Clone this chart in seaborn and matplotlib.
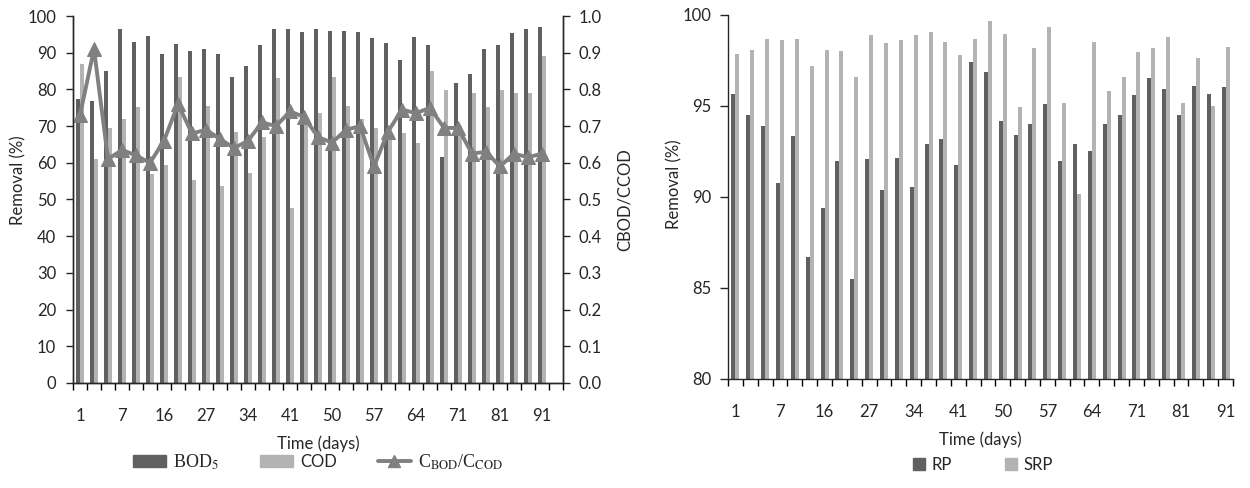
import numpy as np
import pandas as pd
import matplotlib
matplotlib.use("Agg")
import matplotlib.pyplot as plt
from matplotlib.patches import Patch
from matplotlib.lines import Line2D
import seaborn as sns

# --- data ---
tick_days = ["1", "7", "16", "27", "34", "41", "50", "57", "64", "71", "81", "91"]

bod = [77.3, 76.8, 85.1, 96.4, 93.0, 94.6, 89.6, 92.5, 90.5, 90.9, 89.6, 83.5,
       86.4, 92.2, 96.4, 96.4, 95.6, 96.4, 96.0, 96.0, 95.6, 93.9, 92.7, 88.0,
       94.2, 92.1, 61.5, 81.8, 84.2, 90.9, 92.1, 95.5, 96.4, 97.1]
cod = [86.8, 60.9, 69.4, 71.9, 75.3, 56.9, 59.4, 83.5, 55.3, 75.5, 53.7, 68.5,
       57.3, 67.0, 83.0, 47.7, 71.0, 73.5, 83.5, 75.5, 71.8, 69.4, 68.0, 68.0,
       65.5, 85.1, 79.8, 70.0, 78.9, 75.3, 79.8, 78.9, 78.9, 89.0]
ratio = [0.73, 0.91, 0.61, 0.635, 0.62, 0.60, 0.66, 0.76, 0.68, 0.69, 0.665, 0.64,
         0.66, 0.71, 0.70, 0.74, 0.725, 0.67, 0.655, 0.69, 0.70, 0.59, 0.685, 0.745,
         0.735, 0.75, 0.695, 0.695, 0.625, 0.63, 0.59, 0.625, 0.615, 0.625]

rp = [95.66, 94.5, 93.9, 90.75, 93.35, 86.7, 89.4, 92.0, 85.5, 92.07, 90.4, 92.16,
      90.57, 92.9, 93.17, 91.76, 97.44, 96.85, 94.18, 93.41, 94.0, 95.1, 92.0, 92.9,
      92.5, 94.0, 94.5, 95.6, 96.52, 95.93, 94.5, 96.1, 95.66, 96.03]
srp = [97.86, 98.1, 98.7, 98.63, 98.7, 97.2, 98.1, 98.04, 96.6, 98.88, 98.44, 98.63,
       98.88, 99.05, 98.53, 97.8, 98.68, 99.69, 98.94, 94.93, 98.17, 99.36, 95.18, 90.15,
       98.53, 95.84, 96.58, 97.95, 98.17, 98.77, 95.18, 97.62, 95.0, 98.26]

DARK = "#606060"
LIGHT = "#b3b3b3"
LINE = "#808080"
FS = 12

sns.set_style("ticks")
plt.rcParams['font.family'] = ['Lato', 'DejaVu Sans']
plt.rcParams['font.size'] = FS
plt.rcParams['mathtext.fontset'] = 'stix'
plt.rcParams['axes.linewidth'] = 1.0

n = len(bod)
sample = np.arange(n)

left_df = pd.DataFrame({"sample": np.tile(sample, 2),
                        "value": bod + cod,
                        "kind": ["BOD"] * n + ["COD"] * n})
right_df = pd.DataFrame({"sample": np.tile(sample, 2),
                         "value": rp + srp,
                         "kind": ["RP"] * n + ["SRP"] * n})

fig = plt.figure(figsize=(12.5, 4.88), dpi=100)
ax1 = fig.add_axes([0.0584, 0.2152, 0.392, 0.752])
ax3 = fig.add_axes([0.5824, 0.2234, 0.404, 0.746])


def style_x(ax, nslots):
    ax.set_xlim(-0.5, nslots - 0.5)
    ax.set_xticks(np.arange(0, n, 3))
    ax.set_xticklabels(tick_days)
    ax.set_xticks(np.arange(-0.5, nslots, 1.0), minor=True)
    ax.tick_params(axis='x', which='major', length=0, pad=18, labelsize=FS)
    ax.tick_params(axis='x', which='minor', length=5, width=1.0, direction='out', color='black')
    ax.set_xlabel("Time (days)", fontsize=FS, labelpad=8)


# --- left panel ---
sns.barplot(data=left_df, x="sample", y="value", hue="kind", ax=ax1,
            palette={"BOD": DARK, "COD": LIGHT}, width=0.57, gap=0,
            linewidth=0, errorbar=None, legend=False)
ax1.set_ylim(0, 100)
ax1.set_yticks(np.arange(0, 101, 10))
ax1.tick_params(axis='y', length=5, width=1.0, pad=7, labelsize=FS, direction='out')
style_x(ax1, n + 1)
ax1.set_ylabel("Removal (%)", fontsize=FS)
ax1.yaxis.set_label_coords(-0.096, 0.553)
ax1.spines['top'].set_visible(False)

ax2 = ax1.twinx()
sns.lineplot(x=sample, y=ratio, ax=ax2, color=LINE, linewidth=2.8,
             marker='^', markersize=10, markeredgecolor=LINE, markerfacecolor=LINE)
ax2.set_ylim(0, 1.0)
ax2.set_yticks(np.arange(0, 1.01, 0.1))
ax2.set_yticklabels([f"{v:.1f}" for v in np.arange(0, 1.01, 0.1)])
ax2.tick_params(axis='y', length=5, width=1.0, pad=6, labelsize=FS, direction='out')
ax2.set_ylabel("CBOD/CCOD", fontsize=FS)
ax2.yaxis.set_label_coords(1.11, 0.5)
ax2.spines['top'].set_visible(False)
ax2.set_xlim(-0.5, n + 0.5)

handles = [Patch(color=DARK), Patch(color=LIGHT),
           Line2D([], [], color=LINE, linewidth=2.8, marker='^', markersize=9)]
labels = ["BOD$_5$", "COD", r"C$_{\mathrm{BOD}}$/C$_{\mathrm{COD}}$"]
leg = ax1.legend(handles, labels, loc='center', bbox_to_anchor=(0.5, -0.215),
                 ncol=3, frameon=False, handlelength=1.8, handleheight=0.6,
                 columnspacing=2.3, handletextpad=0.4, fontsize=13)
leg.get_texts()[0].set_family('Liberation Serif')
leg.get_texts()[1].set_family('Lato')
leg.get_texts()[1].set_fontsize(FS)
leg.get_texts()[2].set_family('Liberation Serif')

# --- right panel ---
sns.barplot(data=right_df, x="sample", y="value", hue="kind", ax=ax3,
            palette={"RP": DARK, "SRP": LIGHT}, width=0.54, gap=0,
            linewidth=0, errorbar=None, legend=False)
ax3.set_ylim(80, 100)
ax3.set_yticks(np.arange(80, 101, 5))
ax3.tick_params(axis='y', length=6, width=1.0, pad=6, labelsize=FS, direction='out')
style_x(ax3, n)
ax3.set_ylabel("Removal (%)", fontsize=FS)
ax3.yaxis.set_label_coords(-0.091, 0.536)
ax3.spines['top'].set_visible(False)
ax3.spines['right'].set_visible(False)

leg2 = ax3.legend([Patch(color=DARK), Patch(color=LIGHT)], ["RP", "SRP"],
                  loc='center', bbox_to_anchor=(0.505, -0.236), ncol=2,
                  frameon=False, handlelength=0.7, handleheight=0.7,
                  columnspacing=3.2, handletextpad=0.4, fontsize=FS)

fig.savefig("out.png", dpi=100, facecolor='white')
